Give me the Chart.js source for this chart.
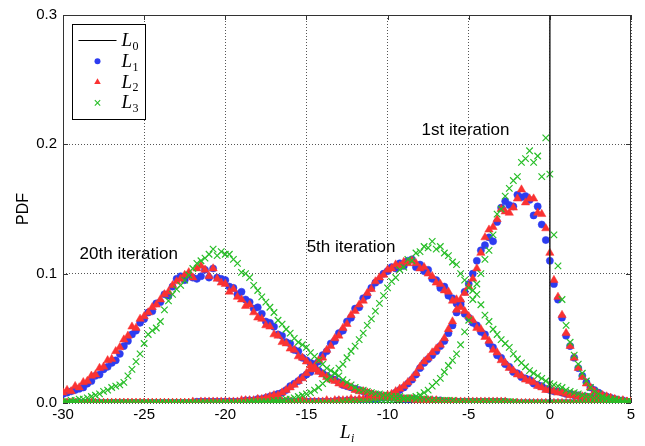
<!DOCTYPE html>
<html>
<head>
<meta charset="utf-8">
<script src="https://cdn.jsdelivr.net/npm/chart.js@4.4.1/dist/chart.umd.min.js"></script>
<style>
  html, body { margin: 0; padding: 0; background: #fff; }
  #wrap { width: 645px; height: 446px; position: relative; }
</style>
</head>
<body>
<div id="wrap"><canvas id="pdfChart"></canvas></div>
<script>
// histogram bins: -30 .. 5, step 0.25 (141 bins)
var binStart = -30;
var binStep = 0.25;

// PDF values in thousandths, one row = 5 units of L_i
// *** 1st iteration ***
var it1_L1 = [
  0,0,0,0,0,0,0,0,0,0,0,0,0,0,0,0,0,0,0,0,
  0,0,0,0,0,0,0,0,0,0,0,0,0,0,0,0,0,0,0,0,
  0,0,0,0,0,0,0,0,0,0,0,0,1,1,1,1,1,1,1,1,
  1,1,1,1,1,1,1,1,2,1,2,2,2,2,2,3,3,3,4,4,
  5,6,8,10,12,15,18,22,27,31,34,37,40,44,48,54,60,70,78,86,
  92,100,110,118,122,128,125,140,151,156,153,152,161,159,160,157,145,152,138,126,
  110,92,80,66,52,44,35,27,21,16,12,10,8,6,5,4,3,2,2,1,
  1];
var it1_L2 = [
  0,0,0,0,0,0,0,0,0,0,0,0,0,0,0,0,0,0,0,0,
  0,0,0,0,0,0,0,0,0,0,0,0,0,0,0,0,0,0,0,0,
  0,0,0,0,0,0,0,0,0,0,1,0,1,1,1,1,1,1,1,2,
  1,1,1,1,1,2,1,2,2,2,2,3,2,3,3,3,4,4,5,5,
  6,7,9,11,13,16,19,23,28,32,35,39,42,45,50,57,63,72,80,85,
  90,96,104,116,128,134,136,142,150,148,147,151,158,165,155,158,158,147,146,135,
  116,95,82,68,54,44,35,27,20,15,12,9,7,6,5,4,3,2,2,1,
  1];
var it1_L3 = [
  0,0,0,0,0,0,0,0,0,0,0,0,0,0,0,0,0,0,0,0,
  0,0,0,0,0,0,0,0,0,0,0,0,0,0,0,0,0,0,0,0,
  0,0,0,0,0,0,0,0,0,0,0,0,0,0,0,0,0,0,0,0,
  0,0,0,0,0,0,0,0,0,1,1,1,1,1,1,1,1,1,1,1,
  1,1,2,2,3,3,4,5,6,8,10,13,16,19,24,29,33,38,45,55,
  64,80,92,100,111,118,130,146,150,160,166,172,175,186,189,195,186,191,175,205,
  177,130,106,80,60,47,37,30,23,17,12,9,7,5,4,3,3,2,1,1,
  1];

// *** 5th iteration ***
var it5_L1 = [
  0,0,0,0,0,0,0,0,0,0,0,0,0,0,0,0,0,0,0,0,
  0,0,0,0,0,0,0,0,0,0,0,0,0,1,1,1,1,1,1,1,
  1,1,1,1,1,2,2,2,3,3,4,5,6,7,8,10,13,15,17,20,
  22,24,30,32,37,40,46,48,54,56,63,66,73,74,81,83,89,93,95,100,
  102,105,104,108,106,110,111,105,107,102,103,96,95,89,90,83,81,77,76,69,
  66,62,60,55,53,46,43,37,35,30,28,24,23,20,19,18,15,14,13,11,
  10,9,9,8,7,7,6,6,5,5,4,4,3,3,3,2,2,2,1,1,
  1];
var it5_L2 = [
  0,0,0,0,0,0,0,0,0,0,0,0,0,0,0,0,0,0,0,0,
  0,0,0,0,0,0,0,0,0,0,0,0,1,0,1,1,1,1,1,1,
  1,1,1,1,2,2,2,2,3,3,4,5,6,6,8,10,12,14,17,19,
  23,26,28,33,35,41,44,50,52,58,61,68,71,76,79,85,88,94,97,99,
  103,104,107,106,109,108,110,108,104,105,100,98,93,92,87,86,79,80,74,71,
  67,64,58,57,51,48,41,39,33,31,27,25,22,21,18,17,16,13,12,10,
  10,9,8,8,7,6,6,5,5,4,4,3,3,3,2,2,2,1,1,1,
  1];
var it5_L3 = [
  0,0,0,0,0,0,0,0,0,0,0,0,0,0,0,0,0,0,0,0,
  0,0,0,0,0,0,0,0,0,0,0,0,0,0,0,0,0,0,0,0,
  0,0,0,0,0,0,1,1,1,1,1,1,2,2,2,3,3,4,5,6,
  7,8,10,12,15,18,20,23,27,30,35,40,44,49,54,60,65,71,77,83,
  89,94,97,103,105,111,110,116,117,121,120,125,119,121,116,114,109,107,100,95,
  89,87,84,76,68,63,57,53,49,46,43,38,34,31,28,25,23,21,19,17,
  15,14,13,12,10,9,8,7,6,5,5,4,4,3,3,2,2,2,1,1,
  1];

// *** 20th iteration ***
var it20_L1 = [
  7,8,9,10,11,12,15,17,21,22,26,28,31,33,38,44,48,53,56,62,
  65,70,71,77,78,84,83,90,96,98,95,99,97,96,98,103,97,104,97,96,
  95,90,89,84,86,80,78,73,74,69,63,62,59,53,52,47,46,41,40,35,
  33,31,28,25,23,21,19,18,16,14,13,12,11,10,9,8,7,6,6,5,
  5,4,4,4,3,3,3,3,2,2,2,2,2,2,1,1,1,1,1,1,
  1,1,1,1,1,1,1,1,1,1,0,0,0,0,0,0,0,0,0,0,
  0,0,0,0,0,0,0,0,0,0,0,0,0,0,0,0,0,0,0,0,
  0];
var it20_L2 = [
  8,10,9,13,12,16,17,21,22,27,28,33,34,40,43,49,52,59,58,65,
  67,70,74,76,80,84,86,91,94,96,99,101,97,104,106,103,98,104,96,93,
  92,86,88,82,80,75,76,70,66,65,60,59,53,52,47,46,42,41,36,35,
  32,29,26,24,22,20,18,17,15,14,13,12,10,9,9,8,7,6,5,5,
  4,4,4,3,3,3,3,2,2,2,2,2,2,1,1,1,1,1,1,1,
  1,1,1,1,1,1,1,1,1,1,0,0,0,0,0,0,0,0,0,0,
  0,0,0,0,0,0,0,0,0,0,0,0,0,0,0,0,0,0,0,0,
  0];
var it20_L3 = [
  1,1,2,2,3,3,4,5,6,7,9,10,12,13,14,16,21,26,32,38,
  46,53,56,58,63,72,79,84,88,91,95,99,104,108,110,112,115,119,114,117,
  115,115,111,108,101,100,97,91,87,82,78,74,70,64,61,57,54,50,47,45,
  43,39,36,33,30,27,25,23,21,18,16,14,12,10,10,9,8,7,7,6,
  6,5,5,5,4,4,4,3,3,3,3,2,2,2,2,2,2,1,1,1,
  1,1,1,1,1,1,1,1,1,1,1,1,0,0,0,0,0,0,0,0,
  0,0,0,0,0,0,0,0,0,0,0,0,0,0,0,0,0,0,0,0,
  0];

var seriesNames = ['L_0', 'L_1', 'L_2', 'L_3'];
var iterNames = ['1st iteration', '5th iteration', '20th iteration'];
var xTicks = [-30, -25, -20, -15, -10, -5, 0, 5];
var yTicks = [0, 0.1, 0.2, 0.3];

var colBlue = 'rgb(45, 60, 240)';
var colRed = 'rgb(250, 50, 50)';
var colGreen = 'rgb(40, 190, 40)';

// bin value arrays -> scatter points (all three iterations in one dataset)
function toPoints() {
  var pts = [];
  for (var k = 0; k < arguments.length; k++) {
    var arr = arguments[k];
    for (var i = 0; i < arr.length; i++) {
      pts.push({ x: binStart + i * binStep, y: arr[i] / 1000 });
    }
  }
  return pts;
}

function drawMarker(ctx, style, x, y, r, color) {
  ctx.save();
  ctx.fillStyle = color;
  ctx.strokeStyle = color;
  ctx.beginPath();
  if (style === 'circle') {
    ctx.arc(x, y, r, 0, Math.PI * 2);
    ctx.fill();
  } else if (style === 'triangle') {
    ctx.moveTo(x, y - r);
    ctx.lineTo(x + r * 0.866, y + r * 0.5);
    ctx.lineTo(x - r * 0.866, y + r * 0.5);
    ctx.closePath();
    ctx.fill();
  } else if (style === 'crossRot') {
    var d = r * 0.707;
    ctx.lineWidth = 1.1;
    ctx.moveTo(x - d, y - d); ctx.lineTo(x + d, y + d);
    ctx.moveTo(x - d, y + d); ctx.lineTo(x + d, y - d);
    ctx.stroke();
  } else if (style === 'line') {
    ctx.lineWidth = 1.2;
    ctx.strokeStyle = '#000';
    ctx.moveTo(x - 19, y); ctx.lineTo(x + 19, y);
    ctx.stroke();
  }
  ctx.restore();
}

// "L" + subscript, like the LaTeX labels of the original
function drawSubLabel(ctx, text, x, y, size, align) {
  var parts = text.split('_');
  ctx.save();
  ctx.fillStyle = '#000';
  ctx.textBaseline = 'alphabetic';
  ctx.font = 'italic ' + size + 'px "Liberation Serif", serif';
  var w1 = ctx.measureText(parts[0]).width;
  var subSize = Math.round(size * 0.65);
  var subFont = (parts[1] === 'i' ? 'italic ' : '') + subSize + 'px "Liberation Serif", serif';
  ctx.font = subFont;
  var w2 = ctx.measureText(parts[1]).width;
  var x0 = align === 'center' ? x - (w1 + w2) / 2 : x;
  ctx.font = 'italic ' + size + 'px "Liberation Serif", serif';
  ctx.fillText(parts[0], x0, y);
  ctx.font = subFont;
  ctx.fillText(parts[1], x0 + w1 + 0.5, y + size * 0.2);
  ctx.restore();
}

// box around the axes + inward ticks (matlab style)
var boxFrame = {
  id: 'boxFrame',
  beforeDatasetsDraw(chart) {
    var ctx = chart.ctx, a = chart.chartArea;
    var xs = chart.scales.x, ys = chart.scales.y;
    ctx.save();
    ctx.strokeStyle = '#333';
    ctx.lineWidth = 1;
    ctx.strokeRect(a.left + 0.5, a.top + 0.5, a.right - a.left - 1, a.bottom - a.top - 1);
    ctx.beginPath();
    xTicks.forEach(function (v) {
      var px = Math.round(xs.getPixelForValue(v)) + 0.5;
      ctx.moveTo(px, a.bottom); ctx.lineTo(px, a.bottom - 5);
      ctx.moveTo(px, a.top); ctx.lineTo(px, a.top + 5);
    });
    yTicks.forEach(function (v) {
      var py = Math.round(ys.getPixelForValue(v)) + 0.5;
      ctx.moveTo(a.left, py); ctx.lineTo(a.left + 5, py);
      ctx.moveTo(a.right, py); ctx.lineTo(a.right - 5, py);
    });
    ctx.stroke();
    ctx.restore();
  }
};

// legend box, iteration labels and the L_i axis title
var extras = {
  id: 'extras',
  afterDraw(chart, args, opts) {
    var ctx = chart.ctx, a = chart.chartArea;
    var xs = chart.scales.x, ys = chart.scales.y;

    ctx.save();
    ctx.fillStyle = '#000';
    ctx.font = '17px "Liberation Sans", Arial, sans-serif';
    ctx.textAlign = 'center';
    ctx.textBaseline = 'alphabetic';
    iterNames.forEach(function (name, i) {
      var p = opts.labelAt[i];
      ctx.fillText(name, xs.getPixelForValue(p[0]), ys.getPixelForValue(p[1]));
    });
    ctx.restore();

    // legend
    var bx = a.left + 9.5, by = a.top + 9.5, bw = 73, bh = 95;
    ctx.save();
    ctx.fillStyle = '#fff';
    ctx.fillRect(bx, by, bw, bh);
    ctx.strokeStyle = '#000';
    ctx.lineWidth = 1;
    ctx.strokeRect(bx, by, bw, bh);
    ctx.restore();
    var styles = ['line', 'circle', 'triangle', 'crossRot'];
    var cols = ['#000', colBlue, colRed, colGreen];
    var sizes = [0, 3, 3.8, 3.8];
    seriesNames.forEach(function (name, i) {
      var ry = by + 16 + i * 20.8;
      drawMarker(ctx, styles[i], bx + 25, ry, sizes[i], cols[i]);
      drawSubLabel(ctx, name, bx + 49, ry + 5.5, 19, 'left');
    });

    // x axis title
    drawSubLabel(ctx, 'L_i', (a.left + a.right) / 2, a.bottom + 35, 19, 'center');
  }
};

var ctx0 = document.getElementById('pdfChart').getContext('2d');

var pdfChart = new Chart(ctx0, {
  type: 'scatter',
  data: {
    datasets: [
      {
        label: seriesNames[0],
        type: 'line',
        data: [{ x: 0, y: 0 }, { x: 0, y: 0.3 }],
        borderColor: '#222',
        borderWidth: 1.5,
        pointRadius: 0,
        order: 0
      },
      {
        label: seriesNames[1],
        data: toPoints(it1_L1, it5_L1, it20_L1),
        pointStyle: 'circle',
        pointRadius: 3.6,
        borderWidth: 0.5,
        backgroundColor: colBlue,
        borderColor: colBlue,
        order: 3
      },
      {
        label: seriesNames[2],
        data: toPoints(it1_L2, it5_L2, it20_L2),
        pointStyle: 'triangle',
        pointRadius: 4.8,
        borderWidth: 0.5,
        backgroundColor: colRed,
        borderColor: colRed,
        order: 2
      },
      {
        label: seriesNames[3],
        data: toPoints(it1_L3, it5_L3, it20_L3),
        pointStyle: 'crossRot',
        pointRadius: 4.6,
        borderWidth: 1.2,
        backgroundColor: colGreen,
        borderColor: colGreen,
        order: 1
      }
    ]
  },
  options: {
    responsive: true,
    maintainAspectRatio: false,
    animation: false,
    events: [],
    layout: { padding: { top: 13, right: 14, left: 0, bottom: 0 } },
    plugins: {
      legend: { display: false },
      tooltip: { enabled: false },
      extras: {
        labelAt: [[-5.2, 0.207], [-12.25, 0.117], [-25.95, 0.1115]]
      }
    },
    scales: {
      x: {
        type: 'linear',
        min: -30,
        max: 5,
        afterFit: function (s) { s.height = 43; },
        afterBuildTicks: function (s) { s.ticks = xTicks.map(function (v) { return { value: v }; }); },
        ticks: {
          color: '#000',
          padding: 3,
          maxRotation: 0,
          font: { family: '"Liberation Sans", Arial, sans-serif', size: 15 }
        },
        grid: { color: '#555', lineWidth: 1, drawTicks: false },
        border: { display: false, dash: [1, 2] }
      },
      y: {
        type: 'linear',
        min: 0,
        max: 0.3,
        afterFit: function (s) { s.width = 63; },
        afterBuildTicks: function (s) { s.ticks = yTicks.map(function (v) { return { value: v }; }); },
        ticks: {
          color: '#000',
          padding: 6,
          font: { family: '"Liberation Sans", Arial, sans-serif', size: 15 },
          callback: function (v) { return Number(v).toFixed(1); }
        },
        title: {
          display: true,
          text: 'PDF',
          color: '#000',
          padding: { top: 14, bottom: 0 },
          font: { family: '"Liberation Sans", Arial, sans-serif', size: 16 }
        },
        grid: { color: '#555', lineWidth: 1, drawTicks: false },
        border: { display: false, dash: [1, 2] }
      }
    }
  },
  plugins: [boxFrame, extras]
});
</script>
</body>
</html>
